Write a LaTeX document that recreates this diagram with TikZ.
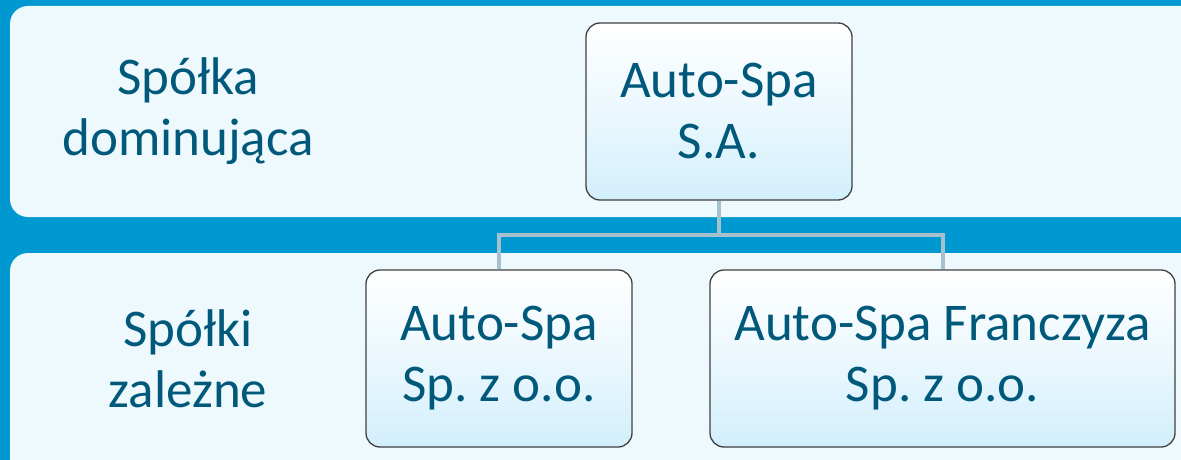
\documentclass[tikz,border=0pt]{standalone}
\usepackage{fontspec}
\setmainfont{Carlito}
\frenchspacing
\definecolor{bgblue}{HTML}{0098D1}
\definecolor{bandfill}{HTML}{EEF9FE}
\definecolor{boxbottom}{HTML}{D2EFFC}
\definecolor{txtcol}{HTML}{00587A}
\definecolor{conncol}{HTML}{A6C0CD}
\definecolor{boxborder}{HTML}{404040}
\tikzset{
  band/.style={fill=bandfill, rounded corners=18pt},
  orgbox/.style={draw=boxborder, line width=1.3pt, rounded corners=14pt,
    top color=white, bottom color=boxbottom, middle color=white!55!boxbottom,
    inner sep=0pt},
  lbl/.style={align=center, text=txtcol, inner sep=0pt,
    font=\fontsize{53}{61}\selectfont},
  conn/.style={draw=conncol, line width=4pt}
}
\begin{document}
\begin{tikzpicture}[x=1pt,y=-1pt]
\useasboundingbox (0,0) rectangle (1181,460);
\clip (0,0) rectangle (1181,460);
\fill[bgblue] (0,0) rectangle (1181,460);
\fill[band] (10,6) rectangle (1210,217);
\fill[band] (10,253) rectangle (1210,490);
\node[lbl] (lab1) at (188,111.5) {Spółka\\dominująca};
\node[lbl] (lab2) at (188,358.5) {Spółki\\zależne};
\coordinate (j) at (719,235);
\node[orgbox, minimum width=266pt, minimum height=177pt] (top) at (719,111.5) {};
\node[orgbox, minimum width=266pt, minimum height=177pt] (b1) at (499,358.5) {};
\node[orgbox, minimum width=465pt, minimum height=177pt] (b2) at (942.5,358.5) {};
\draw[conn] (top.south) -- (j);
\draw[conn] (b1.north) |- (j) -| (b2.north);
\node[lbl] (t1) at (top.center) {Auto-Spa\\S.A.};
\node[lbl] (t2) at (b1.center) {Auto-Spa\\Sp. z o.o.};
\node[lbl] (t3) at (b2.center) {Auto-Spa Franczyza\\Sp. z o.o.};
\end{tikzpicture}
\end{document}
